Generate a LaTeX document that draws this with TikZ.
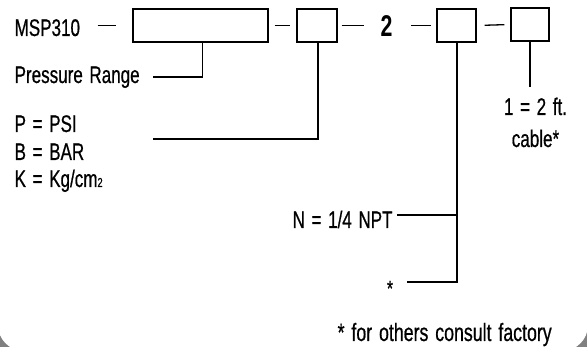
\documentclass[tikz,border=0pt]{standalone}
\usepackage{fontspec}
\setmainfont{Liberation Sans}[FakeStretch=0.71,WordSpace=1.4,UprightFeatures={FakeBold=0.6}]
\begin{document}
\begin{tikzpicture}[x=1pt,y=-1pt,line width=1.3pt,
  lbl/.style={inner sep=0pt,font=\fontsize{24}{28}\selectfont,anchor=base west},
  codebox/.style={draw,inner sep=0pt,minimum height=33pt}]
\useasboundingbox (0,0) rectangle (587,347);
\fill[black!50] (0,0) rectangle (587,347);
\fill[white,rounded corners=26pt] (-2,-40) rectangle (588,351);
% code boxes
\node[codebox,minimum width=135pt] (b1) at (200.5,25.5) {};
\node[codebox,minimum width=40pt] (b2) at (317,25.5) {};
\node[codebox,minimum width=39pt] (b3) at (456.5,25.5) {};
\node[codebox,minimum width=38pt] (b4) at (530,24.5) {};
% texts
\node[lbl] (msp) at (14,36) {MSP310};
\node[inner sep=0pt,anchor=base,font=\fontsize{30}{30}\selectfont\bfseries] (two) at (386.5,37) {2};
\node[lbl] (pr) at (14,83) {Pressure Range};
\node[lbl] (psi) at (14,132) {P = PSI};
\node[lbl] (bar) at (14,160) {B = BAR};
\node[lbl] (kg) at (14,187) {K = Kg/cm{\fontsize{13}{13}\selectfont 2}};
\node[inner sep=0pt,anchor=base,align=center,font=\fontsize{24}{32}\selectfont] (cable) at (535.5,147) {1 = 2 ft.\\cable*};
\node[lbl] (npt) at (292,228) {N = 1/4 NPT};
\node[inner sep=0pt,anchor=base,font=\fontsize{22}{26}\selectfont] (star) at (390,296) {*};
\node[lbl,font=\fontsize{25}{28}\selectfont] (foot) at (337,341) {* for others consult factory};
% free ends
\coordinate (prend) at (153,77);
\coordinate (psiend) at (153,139);
\coordinate (nptend) at (397,215);
\coordinate (starend) at (407,282);
\coordinate (cableend) at (530,87);
% dashes between code fields
\draw[shorten <=17pt,shorten >=16pt] (msp.east |- b1.west) -- (b1.west);
\draw[shorten <=6pt,shorten >=6pt] (b1.east) -- (b2.west);
\draw[shorten <=4pt,shorten >=16pt] (b2.east) -- (two.west |- b2.east);
\draw[shorten <=18pt,shorten >=5pt] (two.east |- b3.west) -- (b3.west);
\draw[shorten <=8pt,shorten >=6pt] (b3.east) -- (b4.west);
% leaders
\draw ([xshift=2pt]b1.south) |- (prend);
\draw ([xshift=1pt]b2.south) |- (psiend);
\draw ([xshift=0.5pt]b3.south) |- (starend);
\draw (nptend) -- (nptend -| b3.south);
\draw (b4.south) -- (cableend);
\end{tikzpicture}
\end{document}
